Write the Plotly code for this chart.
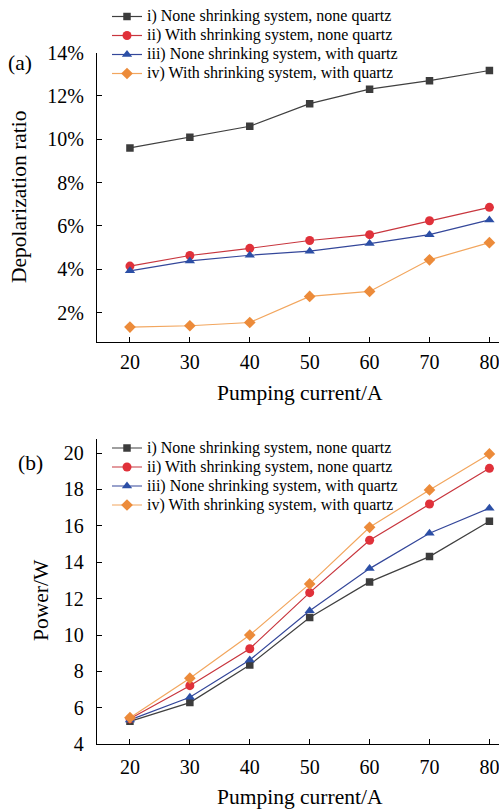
import plotly.graph_objects as go

# ---------------- data ----------------
current = [20, 30, 40, 50, 60, 70, 80]
series_names = [
    "i) None shrinking system, none quartz",
    "ii) With shrinking system, none quartz",
    "iii) None shrinking system, with quartz",
    "iv) With shrinking system, with quartz",
]
depol_i = [9.60, 10.09, 10.60, 11.64, 12.31, 12.70, 13.17]
depol_ii = [4.15, 4.64, 4.97, 5.33, 5.60, 6.24, 6.86]
depol_iii = [3.93, 4.39, 4.65, 4.84, 5.19, 5.60, 6.28]
depol_iv = [1.34, 1.40, 1.55, 2.75, 2.98, 4.44, 5.23]

power_i = [5.26, 6.29, 8.36, 10.96, 12.92, 14.31, 16.25]
power_ii = [5.40, 7.22, 9.25, 12.33, 15.21, 17.20, 19.16]
power_iii = [5.34, 6.58, 8.63, 11.34, 13.65, 15.59, 16.97]
power_iv = [5.46, 7.63, 10.00, 12.81, 15.92, 17.97, 19.95]

depol_ticks = [2, 4, 6, 8, 10, 12, 14]
depol_tick_labels = ["2%", "4%", "6%", "8%", "10%", "12%", "14%"]
power_ticks = [4, 6, 8, 10, 12, 14, 16, 18, 20]
x_ticks = [20, 30, 40, 50, 60, 70, 80]

# ---------------- style ----------------
line_colors = ["#404040", "#c8363e", "#34479a", "#f2a65e"]
marker_colors = ["#3c3c3c", "#e0313a", "#2c4fa6", "#ec8b3a"]
symbols = ["square", "circle", "triangle-up", "diamond"]
msizes = [7.5, 9, 9, 9]
FONT = "Liberation Serif, Times New Roman, serif"
LEGEND_TEXT_PX = 16


def legend_label(s):
    return '<span style="font-size:%dpx">%s</span>' % (LEGEND_TEXT_PX, s)


W, H = 499, 811
fig = go.Figure()

top_series = [depol_i, depol_ii, depol_iii, depol_iv]
bot_series = [power_i, power_ii, power_iii, power_iv]

for k in range(4):
    fig.add_trace(go.Scatter(
        x=current, y=top_series[k], name=legend_label(series_names[k]),
        mode="lines+markers",
        line=dict(color=line_colors[k], width=1.2),
        marker=dict(symbol=symbols[k], size=msizes[k], color=marker_colors[k]),
        xaxis="x", yaxis="y", legend="legend"))
for k in range(4):
    fig.add_trace(go.Scatter(
        x=current, y=bot_series[k], name=legend_label(series_names[k]),
        mode="lines+markers",
        line=dict(color=line_colors[k], width=1.2),
        marker=dict(symbol=symbols[k], size=msizes[k], color=marker_colors[k]),
        xaxis="x2", yaxis="y2", legend="legend2"))

x0 = 97 / W
top_dom = [1 - 342 / H, 1 - 52.5 / H]
bot_dom = [1 - 744.3 / H, 1 - 439 / H]

axis_common = dict(
    showline=True, linecolor="black", linewidth=1.3, mirror=False,
    ticks="inside", ticklen=5, tickwidth=1.2, tickcolor="black",
    showgrid=False, zeroline=False,
    tickfont=dict(family=FONT, size=20, color="black"),
    automargin=False, ticklabeloverflow="allow",
)

fig.update_layout(
    width=W, height=H,
    margin=dict(l=0, r=0, t=0, b=0),
    paper_bgcolor="white", plot_bgcolor="white",
    font=dict(family=FONT, color="black"),
    xaxis=dict(domain=[x0, 1], range=[14.5, 81.6], anchor="y",
               tickvals=x_ticks, ticklabelstandoff=2, **axis_common),
    yaxis=dict(domain=top_dom, range=[0.65, 14.0], anchor="x",
               tickvals=depol_ticks, ticktext=depol_tick_labels,
               ticklabelstandoff=8, **axis_common),
    xaxis2=dict(domain=[x0, 1], range=[14.5, 81.6], anchor="y2",
                tickvals=x_ticks, ticklabelstandoff=5, **axis_common),
    yaxis2=dict(domain=bot_dom, range=[4.0, 20.77], anchor="x2",
                tickvals=power_ticks, ticklabelstandoff=8, **axis_common),
    legend=dict(x=107 / W, y=1 - 2 / H, xanchor="left", yanchor="top",
                bgcolor="rgba(0,0,0,0)", borderwidth=0,
                font=dict(family=FONT, size=12, color="black"),
                itemwidth=30, tracegroupgap=0),
    legend2=dict(x=107 / W, y=1 - 433.5 / H, xanchor="left", yanchor="top",
                 bgcolor="rgba(0,0,0,0)", borderwidth=0,
                 font=dict(family=FONT, size=12, color="black"),
                 itemwidth=30, tracegroupgap=0),
    showlegend=True,
)

ann_font = dict(family=FONT, size=21.5, color="black")
fig.add_annotation(text="Pumping current/A", xref="paper", yref="paper",
                   x=300 / W, y=1 - 393 / H, showarrow=False, font=ann_font,
                   xanchor="center", yanchor="middle")
fig.add_annotation(text="Pumping current/A", xref="paper", yref="paper",
                   x=300 / W, y=1 - 797 / H, showarrow=False, font=ann_font,
                   xanchor="center", yanchor="middle")
fig.add_annotation(text="Depolarization ratio", xref="paper", yref="paper",
                   x=19 / W, y=1 - 197 / H, showarrow=False, font=ann_font,
                   textangle=-90, xanchor="center", yanchor="middle")
fig.add_annotation(text="Power/W", xref="paper", yref="paper",
                   x=41 / W, y=1 - 600 / H, showarrow=False, font=ann_font,
                   textangle=-90, xanchor="center", yanchor="middle")
fig.add_annotation(text="(a)", xref="paper", yref="paper",
                   x=20 / W, y=1 - 63 / H, showarrow=False, font=ann_font,
                   xanchor="center", yanchor="middle")
fig.add_annotation(text="(b)", xref="paper", yref="paper",
                   x=30 / W, y=1 - 463 / H, showarrow=False, font=ann_font,
                   xanchor="center", yanchor="middle")

fig.write_html(
    "out.html",
    config={"displayModeBar": False},
    post_script="document.body.style.margin='0';document.body.style.padding='0';"
                "document.body.style.overflow='hidden';",
)
